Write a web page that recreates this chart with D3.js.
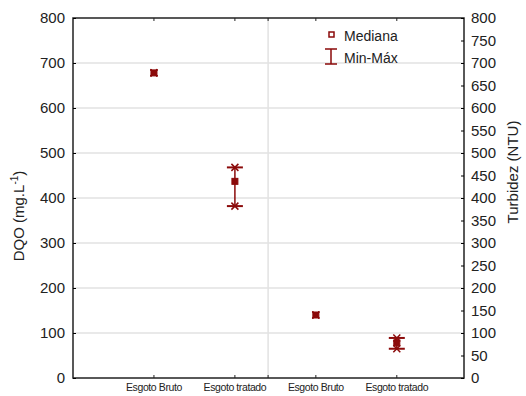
<!DOCTYPE html>
<html>
<head>
<meta charset="utf-8">
<script src="https://cdn.jsdelivr.net/npm/d3@7"></script>
<style>
	body { margin: 0; background: #fff; }
	text { font-family: "Liberation Sans", Arial, sans-serif; fill: #222; }
</style>
</head>
<body>
<svg id="chart" width="526" height="396"></svg>
<script>

// categories, placed at positions 1..4 on the x axis
var categories = ["Esgoto Bruto", "Esgoto tratado", "Esgoto Bruto", "Esgoto tratado"];
var catpos = [1, 2, 3, 4];
var divider = 2.41;

// DQO (left axis) and Turbidez (right axis)
var axisOf = ["left", "left", "right", "right"];
var mediana = [678, 437, 140, 78];
var minimo = [678, 382, 140, 65];
var maximo = [678, 468, 140, 89];

var leftTicks = [0, 100, 200, 300, 400, 500, 600, 700, 800];
var rightTicks = d3.range(0, 801, 50);

var margin = { top: 18, right: 62, bottom: 18, left: 73 };
var W = 526, H = 396;
var red = "#8b0a0a";

var svg = d3.select("#chart");

var x = d3.scaleLinear().domain([0, 4.83]).range([margin.left, W - margin.right]);
var yL = d3.scaleLinear().domain([0, 800]).range([H - margin.bottom, margin.top]);
var yR = d3.scaleLinear().domain([0, 800]).range([H - margin.bottom, margin.top]);

// grid
svg.append("g")
	.selectAll("line")
	.data(leftTicks.slice(1, -1))
	.join("line")
	.attr("x1", margin.left).attr("x2", W - margin.right)
	.attr("y1", d => yL(d)).attr("y2", d => yL(d))
	.attr("stroke", "#e2e2e2").attr("stroke-width", 1.5);

svg.append("line")
	.attr("x1", x(divider)).attr("x2", x(divider))
	.attr("y1", margin.top).attr("y2", H - margin.bottom)
	.attr("stroke", "#e2e2e2").attr("stroke-width", 1.5);

// frame
svg.append("rect")
	.attr("x", margin.left).attr("y", margin.top)
	.attr("width", W - margin.right - margin.left)
	.attr("height", H - margin.bottom - margin.top)
	.attr("fill", "none").attr("stroke", "#222").attr("stroke-width", 1.5);

// left axis
var gl = svg.append("g")
	.attr("transform", `translate(${margin.left},0)`)
	.call(d3.axisLeft(yL).tickValues(leftTicks).tickSize(-3).tickPadding(8));
gl.select(".domain").remove();
gl.selectAll("text").style("font-size", "15px").attr("fill", "#222");

// right axis
var gr = svg.append("g")
	.attr("transform", `translate(${W - margin.right},0)`)
	.call(d3.axisRight(yR).tickValues(rightTicks).tickSize(-3).tickPadding(7));
gr.select(".domain").remove();
gr.selectAll("text").style("font-size", "15px").attr("fill", "#222");

// bottom / top ticks
[[H - margin.bottom, -3], [margin.top, 3]].forEach(([y0, dy]) => {
	svg.append("g")
		.selectAll("line")
		.data(catpos.concat([divider]))
		.join("line")
		.attr("x1", d => x(d)).attr("x2", d => x(d))
		.attr("y1", y0).attr("y2", y0 + dy)
		.attr("stroke", "#222");
});

svg.append("g")
	.selectAll("text")
	.data(categories)
	.join("text")
	.attr("x", (d, i) => x(catpos[i]))
	.attr("y", H - 5)
	.attr("text-anchor", "middle")
	.style("font-size", "10.5px")
	.style("letter-spacing", "-0.4px")
	.text(d => d);

// axis titles
svg.append("text")
	.attr("transform", `translate(24,${(margin.top + H - margin.bottom) / 2 + 18}) rotate(-90)`)
	.attr("text-anchor", "middle")
	.style("font-size", "15px")
	.html("DQO (mg.L<tspan dy='-6' font-size='10'>-1</tspan><tspan dy='6'>)</tspan>");

svg.append("text")
	.attr("transform", `translate(518,${(margin.top + H - margin.bottom) / 2 - 26}) rotate(-90)`)
	.attr("text-anchor", "middle")
	.style("font-size", "15px")
	.text("Turbidez (NTU)");

// data
var yOf = i => axisOf[i] === "left" ? yL : yR;
var pts = d3.range(categories.length);
var ranged = pts.filter(i => maximo[i] > minimo[i]);
var g = svg.append("g");

g.selectAll(".whisk")
	.data(ranged)
	.join("line")
	.attr("x1", i => x(catpos[i])).attr("x2", i => x(catpos[i]))
	.attr("y1", i => yOf(i)(minimo[i])).attr("y2", i => yOf(i)(maximo[i]))
	.attr("stroke", red).attr("stroke-width", 1.5);

[minimo, maximo].forEach(arr => {
	g.selectAll(null)
		.data(ranged)
		.join("line")
		.attr("x1", i => x(catpos[i]) - 8).attr("x2", i => x(catpos[i]) + 8)
		.attr("y1", i => yOf(i)(arr[i])).attr("y2", i => yOf(i)(arr[i]))
		.attr("stroke", red).attr("stroke-width", 2);
	g.selectAll(null)
		.data(pts)
		.join("path")
		.attr("d", i => {
			var cx = x(catpos[i]), cy = yOf(i)(arr[i]);
			return `M${cx - 3.5},${cy - 3.5}L${cx + 3.5},${cy + 3.5}M${cx - 3.5},${cy + 3.5}L${cx + 3.5},${cy - 3.5}`;
		})
		.attr("stroke", red).attr("stroke-width", 1.5);
});

g.selectAll(".med")
	.data(pts)
	.join("rect")
	.attr("x", i => x(catpos[i]) - 3)
	.attr("y", i => yOf(i)(mediana[i]) - 3)
	.attr("width", 6).attr("height", 6)
	.attr("fill", red).attr("stroke", red);

// legend
var lg = svg.append("g");
lg.append("rect")
	.attr("x", 329).attr("y", 32).attr("width", 5).attr("height", 5)
	.attr("fill", "#fff").attr("stroke", red).attr("stroke-width", 1.5);
lg.append("text").attr("x", 344).attr("y", 41).style("font-size", "14px").text("Mediana");
lg.append("path")
	.attr("d", "M325,49H337M331,49V64M325,64H337")
	.attr("fill", "none").attr("stroke", red).attr("stroke-width", 1.5);
lg.append("text").attr("x", 344).attr("y", 63).style("font-size", "14px").text("Min-Máx");

</script>
</body>
</html>
